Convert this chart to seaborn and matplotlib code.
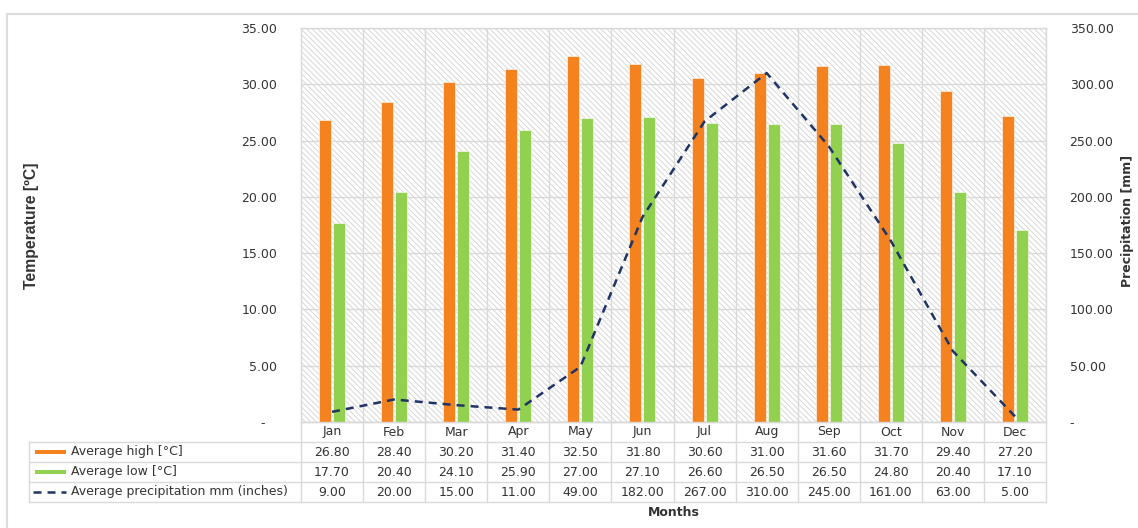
import numpy as np
import pandas as pd
import matplotlib
matplotlib.use("Agg")
import matplotlib.pyplot as plt
from matplotlib.patches import Rectangle
from matplotlib.lines import Line2D
from matplotlib.ticker import FuncFormatter, MultipleLocator
import seaborn as sns

# ---- data -------------------------------------------------------------
months = ["Jan", "Feb", "Mar", "Apr", "May", "Jun",
          "Jul", "Aug", "Sep", "Oct", "Nov", "Dec"]
avg_high = [26.8, 28.4, 30.2, 31.4, 32.5, 31.8, 30.6, 31.0, 31.6, 31.7, 29.4, 27.2]
avg_low = [17.7, 20.4, 24.1, 25.9, 27.0, 27.1, 26.6, 26.5, 26.5, 24.8, 20.4, 17.1]
precip = [9, 20, 15, 11, 49, 182, 267, 310, 245, 161, 63, 5]
series_names = ["Average high [°C]", "Average low [°C]",
                "Average precipitation mm (inches)"]

ORANGE = "#F4821F"
GREEN = "#92D050"
NAVY = "#1F3464"
GRID = "#D9D9D9"
TEXT = "#333333"

sns.set_theme(style="white")
plt.rcParams["font.family"] = ["DejaVu Sans"]
plt.rcParams["hatch.linewidth"] = 0.6

W, H = 1138, 528
fig = plt.figure(figsize=(W / 100, H / 100), dpi=100)

# plot area in pixel coordinates
px_l, px_r, px_t, px_b = 301, 1046, 28, 422
ax = fig.add_axes([px_l / W, (H - px_b) / H, (px_r - px_l) / W, (px_b - px_t) / H])

# hatched background
bg = Rectangle((0, 0), 1, 1, transform=ax.transAxes, facecolor="white",
               edgecolor="#D2D2D2", linewidth=0, hatch="\\\\\\\\\\\\", zorder=-5)
ax.add_patch(bg)

df = pd.DataFrame({
    "month": months * 2,
    "value": avg_high + avg_low,
    "series": [series_names[0]] * 12 + [series_names[1]] * 12,
})
sns.barplot(data=df, x="month", y="value", hue="series", order=months,
            hue_order=series_names[:2], palette=[ORANGE, GREEN], saturation=1,
            width=0.45, gap=0.14, legend=False, ax=ax, zorder=3)
for p in ax.patches:
    if p is not bg:
        p.set_edgecolor("white")
        p.set_linewidth(0.4)

ax.set_xlim(-0.5, 11.5)
ax.set_ylim(0, 35)
ax.yaxis.set_major_locator(MultipleLocator(5))
fmt = FuncFormatter(lambda v, _: "-   " if abs(v) < 1e-9 else f"{v:.2f}")
ax.yaxis.set_major_formatter(fmt)
ax.set_xticks(np.arange(12))
ax.set_xticks(np.arange(12) + 0.5, minor=True)
ax.tick_params(axis="x", which="both", length=0, labelbottom=False)
ax.tick_params(axis="y", length=0, pad=17, labelsize=9, labelcolor=TEXT)
ax.grid(True, axis="y", which="major", color=GRID, lw=1)
ax.grid(True, axis="x", which="minor", color=GRID, lw=1)
ax.grid(False, axis="x", which="major")
ax.set_axisbelow(True)
ax.set_xlabel("")
ax.set_ylabel("")
for s in ax.spines.values():
    s.set_color(GRID)
    s.set_linewidth(1)

# precipitation on the secondary axis
ax2 = ax.twinx()
sns.lineplot(x=np.arange(12), y=precip, ax=ax2, color=NAVY, lw=1.8)
ax2.lines[0].set_dashes([3.2, 2.4])
ax2.set_ylim(0, 350)
ax2.yaxis.set_major_locator(MultipleLocator(50))
ax2.yaxis.set_major_formatter(FuncFormatter(lambda v, _: "-" if abs(v) < 1e-9 else f"{v:.2f}"))
ax2.tick_params(axis="y", length=0, pad=17, labelsize=9, labelcolor=TEXT)
ax2.set_ylabel("")
ax.set_xlim(-0.5, 11.5)
for s in ax2.spines.values():
    s.set_visible(False)

# ---- data table under the chart ---------------------------------------
tb_l, tb_b = 29, 502
tab = fig.add_axes([tb_l / W, (H - tb_b) / H, (px_r - tb_l) / W, (tb_b - px_b) / H])
cat_px = (px_r - px_l) / 12
left_edge = -0.5 - (px_l - tb_l) / cat_px
tab.set_xlim(left_edge, 11.5)
tab.set_ylim(4, 0)
tab.axis("off")

lk = dict(color=GRID, lw=1, clip_on=False)
tab.plot([-0.5, 11.5], [0, 0], **lk)
for y in (1, 2, 3, 4):
    tab.plot([left_edge, 11.5], [y, y], **lk)
tab.plot([left_edge, left_edge], [1, 4], **lk)
for x in np.arange(-0.5, 12.0, 1.0):
    tab.plot([x, x], [0, 4], **lk)

for i, m in enumerate(months):
    tab.text(i, 0.5, m, ha="center", va="center", fontsize=9, color=TEXT)
for r, vals in enumerate([avg_high, avg_low, precip], start=1):
    for i, v in enumerate(vals):
        tab.text(i, r + 0.5, f"{v:.2f}", ha="center", va="center",
                 fontsize=9, color=TEXT)

key_x0 = left_edge + 6 / cat_px
key_x1 = left_edge + 37 / cat_px
tab.add_patch(Rectangle((key_x0, 1.4), key_x1 - key_x0, 0.2, facecolor=ORANGE,
                        edgecolor="none", clip_on=False))
tab.add_patch(Rectangle((key_x0, 2.4), key_x1 - key_x0, 0.2, facecolor=GREEN,
                        edgecolor="none", clip_on=False))
kl = Line2D([left_edge + 4 / cat_px, key_x1], [3.5, 3.5], color=NAVY, lw=1.8,
            dashes=[3.2, 2.4])
kl.set_clip_on(False)
tab.add_line(kl)
for r, name in enumerate(series_names, start=1):
    tab.text(left_edge + 42 / cat_px, r + 0.5, name, ha="left", va="center",
             fontsize=9, color=TEXT)

# ---- titles and frame -------------------------------------------------
fig.text(32 / W, 1 - 226 / H, "Temperature [ºC]", rotation=90, ha="center",
         va="center", fontsize=11.3, fontweight="bold", color=TEXT,
         family=["Liberation Sans", "DejaVu Sans"])
fig.text(1127 / W, 1 - 221 / H, "Precipitation [mm]", rotation=90, ha="center",
         va="center", fontsize=9, fontweight="bold", color=TEXT)
fig.text(673.5 / W, 1 - 513 / H, "Months", ha="center", va="center",
         fontsize=9, fontweight="bold", color=TEXT)

fig.patches.append(Rectangle((7 / W, -0.05), 1.05, 1 - 14 / H + 0.05,
                             transform=fig.transFigure, fill=False,
                             edgecolor="#DDDDDD", lw=1.5))

fig.savefig("out.png", dpi=100)
